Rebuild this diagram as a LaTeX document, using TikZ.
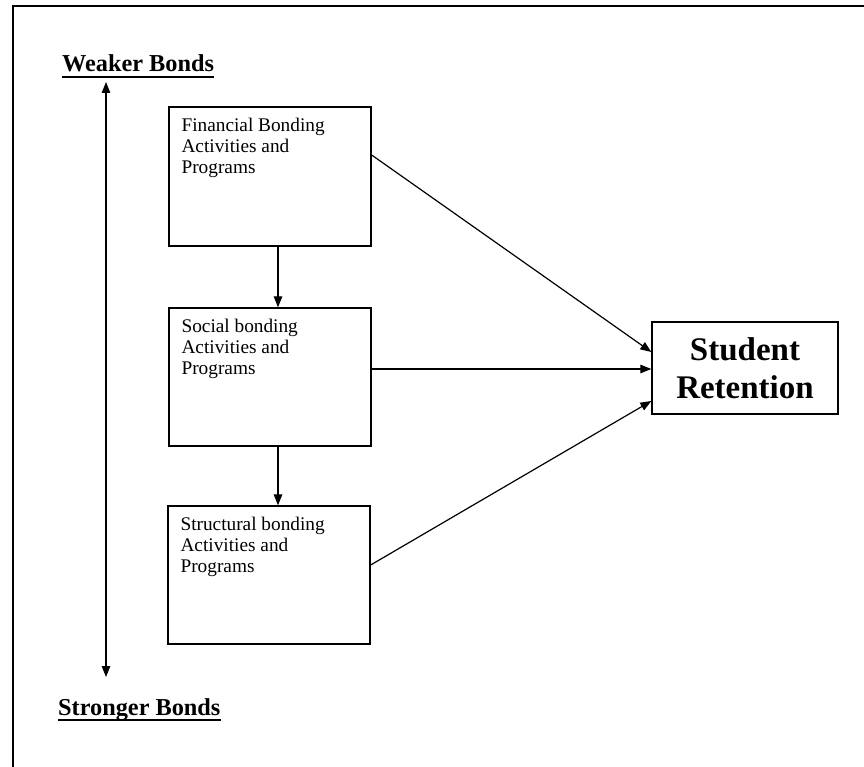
\documentclass[tikz,border=0pt]{standalone}
\usepackage{fontspec}
\setmainfont{Liberation Serif}
\usetikzlibrary{arrows.meta}
\begin{document}
\begin{tikzpicture}[x=1pt,y=-1pt,
  box/.style={draw, line width=1.3pt, minimum width=202pt, inner sep=0pt},
  boxtext/.style={anchor=north west, inner sep=0pt, align=left,
    font=\fontsize{19.3}{21}\selectfont},
  head/.style={anchor=base west, inner sep=0pt,
    font=\fontsize{24.3}{26}\selectfont\bfseries},
  tip/.style={Triangle[length=11pt,width=8.5pt]},
  conn/.style={line width=1.2pt, -{Triangle[length=11pt,width=8.5pt]}},
  frame/.style={line width=1.6pt}]
\useasboundingbox (0,0) rectangle (864,767);
% outer frame (top and left edges)
\coordinate (ftl) at (13,6);
\coordinate (ftr) at (864,6);
\coordinate (fbl) at (13,767);
\draw[frame] (ftr) -- (ftl) -- (fbl);

% labels
\node[head] (wb) at (62,72) {Weaker Bonds};
\draw[line width=1.7pt] ([yshift=-5pt]wb.base west) -- ([yshift=-5pt]wb.base east);
\node[head] (sb) at (58,715) {Stronger Bonds};
\draw[line width=1.7pt] ([yshift=-5pt]sb.base west) -- ([yshift=-5pt]sb.base east);

% vertical double arrow
\coordinate (vt) at (106,82);
\coordinate (vb) at (106,677);
\draw[line width=1.2pt, {Triangle[length=11pt,width=8.5pt]}-{Triangle[length=11pt,width=8.5pt]}] (vt) -- (vb);

% boxes
\node[box, minimum height=139pt] (b1) at (270,176.5) {};
\node[boxtext] (t1) at ([xshift=13pt,yshift=-12pt]b1.north west)
  {Financial Bonding\\Activities and\\Programs};
\node[box, minimum height=138pt] (b2) at (270,377) {};
\node[boxtext] (t2) at ([xshift=13pt,yshift=-12pt]b2.north west)
  {Social bonding\\Activities and\\Programs};
\node[box, minimum height=138pt] (b3) at (269,575) {};
\node[boxtext] (t3) at ([xshift=13pt,yshift=-12pt]b3.north west)
  {Structural bonding\\Activities and\\Programs};

% student retention
\node[draw, line width=1.3pt, minimum width=186pt, minimum height=92pt,
  inner sep=0pt, align=center, font=\fontsize{33}{38}\selectfont\bfseries]
  (sr) at (745,368) {Student\\Retention};

% connectors
\draw[conn] ([xshift=8pt]b1.south) -- ([xshift=8pt]b1.south |- b2.north);
\draw[conn] ([xshift=8pt]b2.south) -- ([xshift=8pt]b2.south |- b3.north);
\draw[conn] ([yshift=21.5pt]b1.east) -- ([yshift=16pt]sr.west);
\draw[conn] ([yshift=8pt]b2.east) -- ([yshift=-1pt]sr.west);
\draw[conn] ([yshift=10pt]b3.east) -- ([yshift=-33pt]sr.west);
\end{tikzpicture}
\end{document}
